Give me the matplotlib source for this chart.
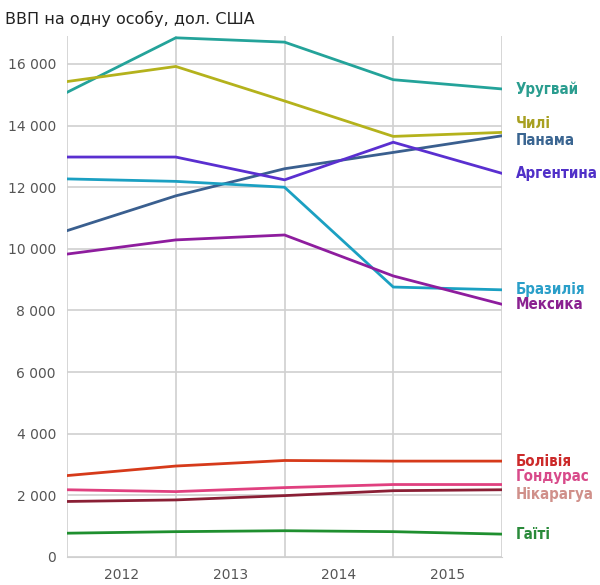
import matplotlib.pyplot as plt
import numpy as np

# GDP per capita, USD -- five points per country, year labels sit between them
years = ['2012', '2013', '2014', '2015']
countries = ['Уругвай', 'Чилі', 'Панама', 'Аргентина', 'Бразилія', 'Мексика',
             'Болівія', 'Гондурас', 'Нікарагуа', 'Гаїті']

uruguay = [15080, 16850, 16710, 15490, 15190]
chile = [15430, 15920, 14800, 13650, 13780]
panama = [10590, 11720, 12600, 13130, 13670]
argentina = [12980, 12980, 12240, 13460, 12450]
brazil = [12270, 12190, 12000, 8760, 8670]
mexico = [9830, 10290, 10450, 9120, 8200]
bolivia = [2640, 2950, 3130, 3110, 3110]
honduras = [2180, 2120, 2250, 2350, 2350]
nicaragua = [1800, 1850, 1990, 2150, 2180]
haiti = [770, 820, 850, 820, 740]

series = [uruguay, chile, panama, argentina, brazil, mexico,
          bolivia, honduras, nicaragua, haiti]
line_colors = ['#24a39a', '#b4b21c', '#3a5f8f', '#5a2fd0', '#1ba0c2',
               '#8e1d9e', '#d63a1a', '#e0407f', '#8a1f35', '#1f8f2f']
label_colors = ['#2a9d8f', '#a8a020', '#3a6591', '#5030c8', '#2a9fc9',
                '#8a2090', '#cc2a2a', '#d84a8a', '#d0908a', '#2a8a3a']
# label vertical offset (points) from last value, to avoid overlaps
label_dy = [0, 6.5, -3.5, 0, 0.5, -0.5, 0, 5.5, -3.5, 0]

plt.rcParams['font.family'] = ['DejaVu Sans']

fig = plt.figure(figsize=(6, 5.85), dpi=100)
ax = fig.add_axes([0.1117, 0.048, 0.725, 0.89])

x = np.arange(5)
for vals, c in zip(series, line_colors):
    ax.plot(x, vals, color=c, linewidth=2, solid_joinstyle='miter', zorder=3)

for name, vals, c, dy in zip(countries, series, label_colors, label_dy):
    ax.annotate(name, xy=(4, vals[-1]), xytext=(10, dy), textcoords='offset points',
                va='center', ha='left', color=c, fontsize=10.8, fontweight='bold',
                fontstretch='condensed', annotation_clip=False)

ax.set_xlim(0, 4)
ax.set_ylim(0, 16900)
ax.set_yticks(np.arange(0, 16001, 2000))
ax.set_yticklabels(['{:,}'.format(v).replace(',', ' ') for v in range(0, 16001, 2000)])
ax.set_xticks(np.arange(0, 5))
ax.set_xticklabels([])
ax.set_xticks(np.arange(0.5, 4), minor=True)
ax.set_xticklabels(years, minor=True)
ax.tick_params(which='both', length=0, colors='#555555', labelsize=10)
ax.tick_params(axis='x', which='minor', pad=8)
ax.tick_params(axis='y', pad=8)
ax.grid(True, which='major', color='#d0d0d0', linewidth=1.2)
for s in ax.spines.values():
    s.set_visible(False)
ax.spines['bottom'].set_visible(True)
ax.spines['bottom'].set_color('#d0d0d0')

fig.text(0.008, 0.968, 'ВВП на одну особу, дол. США', fontsize=11.5, color='#222222',
         ha='left', va='center')

fig.savefig('out.png', dpi=100)
